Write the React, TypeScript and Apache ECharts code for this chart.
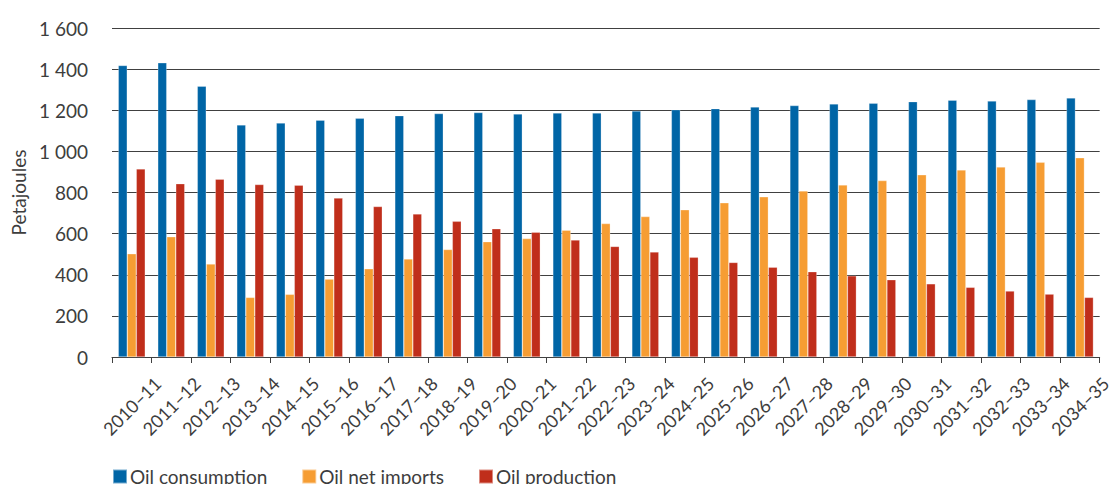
import React, { useEffect, useRef } from "react";
import * as echarts from "echarts";

const categories = [
  "2010–11", "2011–12", "2012–13", "2013–14", "2014–15", "2015–16", "2016–17",
  "2017–18", "2018–19", "2019–20", "2020–21", "2021–22", "2022–23", "2023–24",
  "2024–25", "2025–26", "2026–27", "2027–28", "2028–29", "2029–30", "2030–31",
  "2031–32", "2032–33", "2033–34", "2034–35",
];

const oilConsumption = [
  1418, 1431, 1317, 1129, 1138, 1152, 1161, 1174, 1184, 1189, 1182, 1187, 1187,
  1197, 1203, 1208, 1216, 1223, 1231, 1234, 1242, 1249, 1245, 1252, 1260,
];

const oilNetImports = [
  502, 585, 452, 290, 305, 379, 429, 477, 523, 561, 576, 617, 649, 683, 716, 750,
  779, 808, 837, 858, 886, 910, 924, 947, 969,
];

const oilProduction = [
  915, 843, 865, 839, 836, 773, 732, 696, 660, 624, 607, 569, 538, 511, 485, 460,
  437, 415, 395, 376, 356, 339, 321, 306, 290,
];

const seriesNames = ["Oil consumption", "Oil net imports", "Oil production"];
const colors = ["#0065a6", "#f69d33", "#c02e1b"];

const FONT = "Lato, 'Open Sans', sans-serif";
const TEXT = "#3d3d3d";

function fmt(v: number): string {
  const s = String(v);
  return s.length > 3 ? s.slice(0, s.length - 3) + " " + s.slice(-3) : s;
}

export default function App() {
  const ref = useRef<HTMLDivElement>(null);
  useEffect(() => {
    if (!ref.current) return;
    const chart = echarts.init(ref.current, null, { renderer: "svg" });
    const data = [oilConsumption, oilNetImports, oilProduction];
    chart.setOption({
      animation: false,
      color: colors,
      textStyle: { fontFamily: FONT, color: TEXT },
      grid: { left: 112, right: 2, top: 28, height: 329, containLabel: false },
      legend: {
        left: 112,
        top: 467,
        padding: 0,
        itemWidth: 14,
        itemHeight: 14,
        itemGap: 34,
        icon: "rect",
        textStyle: {
          fontFamily: FONT,
          fontSize: 19,
          lineHeight: 14,
          color: TEXT,
          padding: [0, 0, 0, -2],
        },
        data: seriesNames,
      },
      xAxis: {
        type: "category",
        data: categories,
        boundaryGap: true,
        axisLine: { show: true, lineStyle: { color: "#404040", width: 1 } },
        axisTick: { show: true, length: 6, lineStyle: { color: "#404040" } },
        axisLabel: {
          rotate: 45,
          align: "center",
          verticalAlign: "middle",
          margin: 49,
          interval: 0,
          fontFamily: FONT,
          fontSize: 18,
          color: TEXT,
        },
      },
      yAxis: {
        type: "value",
        min: 0,
        max: 1600,
        interval: 200,
        name: "Petajoules",
        nameLocation: "middle",
        nameGap: 84,
        nameTextStyle: { fontFamily: FONT, fontSize: 19, color: TEXT },
        axisLine: { show: false },
        axisTick: { show: false },
        axisLabel: {
          margin: 24,
          fontFamily: FONT,
          fontSize: 19,
          color: TEXT,
          formatter: (v: number) => fmt(v),
        },
        splitLine: { show: true, lineStyle: { color: "#404040", width: 1 } },
      },
      series: seriesNames.map((name, i) => ({
        name,
        type: "bar",
        data: data[i],
        barWidth: 9,
        barGap: "0%",
        itemStyle: {
          color: colors[i],
          borderColor: "rgba(255,255,255,0.45)",
          borderWidth: 0.6,
        },
      })),
    });
    return () => chart.dispose();
  }, []);
  return (
    <div
      ref={ref}
      style={{ position: "fixed", left: 0, top: 0, width: 1114, height: 484, background: "#fff" }}
    />
  );
}
